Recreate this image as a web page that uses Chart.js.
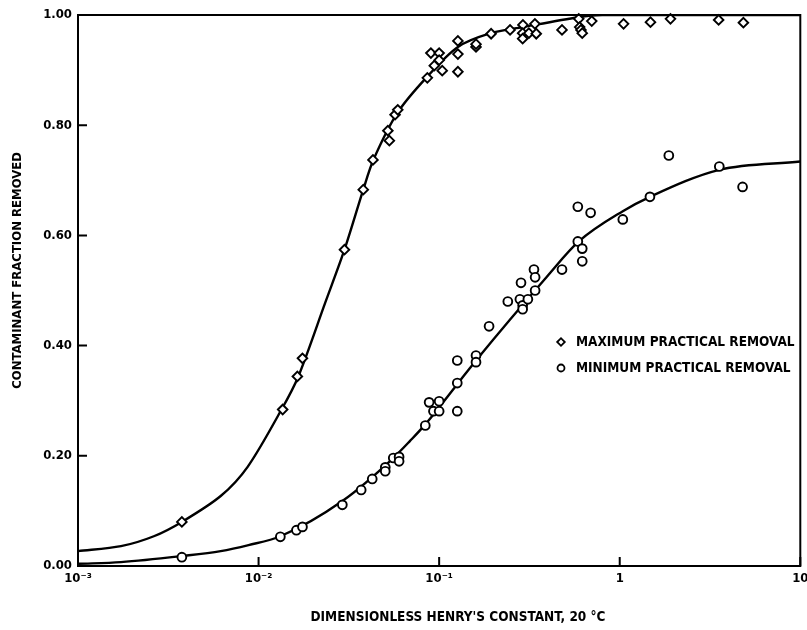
<!DOCTYPE html>
<html>
<head>
<meta charset="utf-8">
<script src="https://cdn.jsdelivr.net/npm/chart.js@4/dist/chart.umd.min.js"></script>
<style>
  html, body { margin: 0; padding: 0; background: #fff; }
  #wrap { width: 807px; height: 630px; }
</style>
</head>
<body>
<div id="wrap"><canvas id="chart" width="807" height="630"></canvas></div>
<script>
// axis ticks
const xTickValues = [0.001, 0.01, 0.1, 1, 10];
const xTickLabels = ["10\u207B\u00B3", "10\u207B\u00B2", "10\u207B\u00B9", "1", "10"];
const yTickValues = [0, 0.2, 0.4, 0.6, 0.8, 1.0];
const yTickLabels = ["0.00", "0.20", "0.40", "0.60", "0.80", "1.00"];

const seriesLabels = ["MAXIMUM PRACTICAL REMOVAL", "MINIMUM PRACTICAL REMOVAL"];

// maximum practical removal (diamonds)
const maxX = [0.00376, 0.0136, 0.0164, 0.0175, 0.0299, 0.038, 0.043, 0.052, 0.053, 0.057,
              0.059, 0.086, 0.090, 0.10, 0.094, 0.104, 0.10, 0.127, 0.127, 0.127,
              0.16, 0.16, 0.194, 0.247, 0.291, 0.29, 0.29, 0.314, 0.339, 0.345,
              0.479, 0.593, 0.60, 0.61, 0.62, 0.70, 1.05, 1.48, 1.91, 3.53, 4.84];
const maxY = [0.080, 0.284, 0.344, 0.377, 0.574, 0.683, 0.737, 0.790, 0.772, 0.819,
              0.828, 0.886, 0.931, 0.931, 0.908, 0.899, 0.918, 0.953, 0.929, 0.897,
              0.942, 0.947, 0.966, 0.973, 0.982, 0.967, 0.957, 0.967, 0.984, 0.966,
              0.973, 0.993, 0.978, 0.973, 0.967, 0.989, 0.984, 0.987, 0.993, 0.991, 0.986];

// minimum practical removal (circles)
const minX = [0.00376, 0.0132, 0.0162, 0.0175, 0.0291, 0.037, 0.0426, 0.0503, 0.0503, 0.0557,
              0.060, 0.060, 0.0838, 0.088, 0.093, 0.10, 0.10, 0.126, 0.126, 0.126,
              0.16, 0.16, 0.189, 0.24, 0.284, 0.28, 0.29, 0.29, 0.31, 0.335,
              0.34, 0.34, 0.479, 0.586, 0.586, 0.62, 0.62, 0.69, 1.04, 1.47,
              1.87, 3.56, 4.79];
const minY = [0.016, 0.053, 0.065, 0.071, 0.111, 0.138, 0.158, 0.179, 0.172, 0.196,
              0.198, 0.190, 0.255, 0.297, 0.281, 0.299, 0.281, 0.332, 0.373, 0.281,
              0.382, 0.370, 0.435, 0.480, 0.514, 0.484, 0.473, 0.466, 0.484, 0.538,
              0.524, 0.500, 0.538, 0.589, 0.652, 0.576, 0.553, 0.641, 0.629, 0.670,
              0.745, 0.725, 0.688];

// fitted curves
const maxCurveX = [0.001, 0.00173, 0.00263, 0.00376, 0.00617, 0.0087, 0.0134, 0.0166, 0.0234,
                   0.0299, 0.038, 0.0432, 0.0586, 0.0847, 0.127, 0.193, 0.29, 0.59, 0.80, 10];
const maxCurveY = [0.027, 0.036, 0.054, 0.080, 0.127, 0.180, 0.284, 0.344, 0.478,
                   0.574, 0.683, 0.737, 0.822, 0.886, 0.942, 0.967, 0.978, 0.996, 1.0, 1.0];
const minCurveX = [0.001, 0.00173, 0.00376, 0.00617, 0.0088, 0.0132, 0.0291, 0.0557, 0.069,
                   0.0838, 0.126, 0.16, 0.395, 0.593, 1.04, 1.47, 3.56, 10];
const minCurveY = [0.004, 0.007, 0.018, 0.027, 0.038, 0.054, 0.118, 0.196, 0.227,
                   0.257, 0.330, 0.373, 0.525, 0.589, 0.644, 0.670, 0.719, 0.734];

const FONT = "'DejaVu Sans Condensed', 'Liberation Sans Narrow', 'DejaVu Sans', sans-serif";

function pairs(xs, ys) {
    return xs.map(function(x, i) { return { x: x, y: ys[i] }; });
}

// frame, inward ticks, titles and in-plot legend
const decorPlugin = {
    id: "decor",
    afterDraw: function(chart) {
        const ctx = chart.ctx;
        const a = chart.chartArea;
        const xs = chart.scales.x;
        const ys = chart.scales.y;
        ctx.save();
        ctx.strokeStyle = "#000";
        ctx.lineWidth = 2;
        ctx.strokeRect(a.left, a.top, a.right - a.left, a.bottom - a.top);

        ctx.beginPath();
        xTickValues.forEach(function(v) {
            const px = xs.getPixelForValue(v);
            ctx.moveTo(px, a.bottom);
            ctx.lineTo(px, a.bottom - 9);
        });
        yTickValues.forEach(function(v) {
            const py = ys.getPixelForValue(v);
            ctx.moveTo(a.left, py);
            ctx.lineTo(a.left + 9, py);
        });
        ctx.stroke();

        ctx.fillStyle = "#000";
        ctx.font = "bold 13.5px " + FONT;
        ctx.textBaseline = "middle";
        ctx.textAlign = "center";
        ctx.fillText("DIMENSIONLESS HENRY'S CONSTANT, 20 \u00B0C", 458, 617);

        ctx.save();
        ctx.font = "bold 13px " + FONT;
        ctx.translate(18, 152);
        ctx.rotate(-Math.PI / 2);
        ctx.textAlign = "right";
        ctx.fillText("CONTAMINANT FRACTION REMOVED", 0, 0);
        ctx.restore();

        // legend
        const rows = [342, 368];
        [0, 1].forEach(function(i) {
            const ds = chart.data.datasets[i];
            ctx.lineWidth = 1.8;
            ctx.strokeStyle = "#000";
            ctx.fillStyle = "#fff";
            Chart.helpers.drawPoint(ctx, {
                pointStyle: ds.pointStyle,
                radius: i === 0 ? 3.8 : 3.5,
                borderWidth: 1.8,
                rotation: 0
            }, 561, rows[i]);
            ctx.fillStyle = "#000";
            ctx.textAlign = "left";
            ctx.fillText(ds.label, 576, rows[i]);
        });
        ctx.restore();
    }
};

new Chart(document.getElementById("chart"), {
    type: "scatter",
    data: {
        datasets: [
            {
                label: seriesLabels[0],
                data: pairs(maxX, maxY),
                pointStyle: "rectRot",
                pointRadius: 4.8,
                pointBorderWidth: 1.9,
                pointBorderColor: "#000",
                pointBackgroundColor: "#fff",
                clip: 8
            },
            {
                label: seriesLabels[1],
                data: pairs(minX, minY),
                pointStyle: "circle",
                pointRadius: 4.4,
                pointBorderWidth: 1.9,
                pointBorderColor: "#000",
                pointBackgroundColor: "#fff",
                clip: 8
            },
            {
                label: "max fit",
                data: pairs(maxCurveX, maxCurveY),
                showLine: true,
                pointRadius: 0,
                borderColor: "#000",
                borderWidth: 2.4,
                tension: 0.3
            },
            {
                label: "min fit",
                data: pairs(minCurveX, minCurveY),
                showLine: true,
                pointRadius: 0,
                borderColor: "#000",
                borderWidth: 2.4,
                cubicInterpolationMode: "monotone"
            }
        ]
    },
    options: {
        responsive: false,
        animation: false,
        layout: { padding: { left: 0, right: 6, top: 15, bottom: 0 } },
        plugins: {
            legend: { display: false },
            tooltip: { enabled: false }
        },
        scales: {
            x: {
                type: "logarithmic",
                min: 0.001,
                max: 10,
                afterBuildTicks: function(scale) {
                    scale.ticks = xTickValues.map(function(v) { return { value: v }; });
                },
                afterFit: function(scale) {
                    scale.height = 64;
                    scale.paddingLeft = 0;
                    scale.paddingRight = 0;
                },
                grid: { display: false, drawTicks: false },
                border: { display: false },
                ticks: {
                    autoSkip: false,
                    maxRotation: 0,
                    padding: 5,
                    color: "#000",
                    font: { family: FONT, size: 13, weight: "bold" },
                    callback: function(value, index) { return xTickLabels[index]; }
                }
            },
            y: {
                type: "linear",
                min: 0,
                max: 1,
                afterBuildTicks: function(scale) {
                    scale.ticks = yTickValues.map(function(v) { return { value: v }; });
                },
                afterFit: function(scale) {
                    scale.width = 78;
                    scale.paddingTop = 0;
                    scale.paddingBottom = 0;
                },
                grid: { display: false, drawTicks: false },
                border: { display: false },
                ticks: {
                    padding: 6,
                    color: "#000",
                    font: { family: FONT, size: 13, weight: "bold" },
                    callback: function(value, index) { return yTickLabels[index]; }
                }
            }
        }
    },
    plugins: [decorPlugin]
});
</script>
</body>
</html>
